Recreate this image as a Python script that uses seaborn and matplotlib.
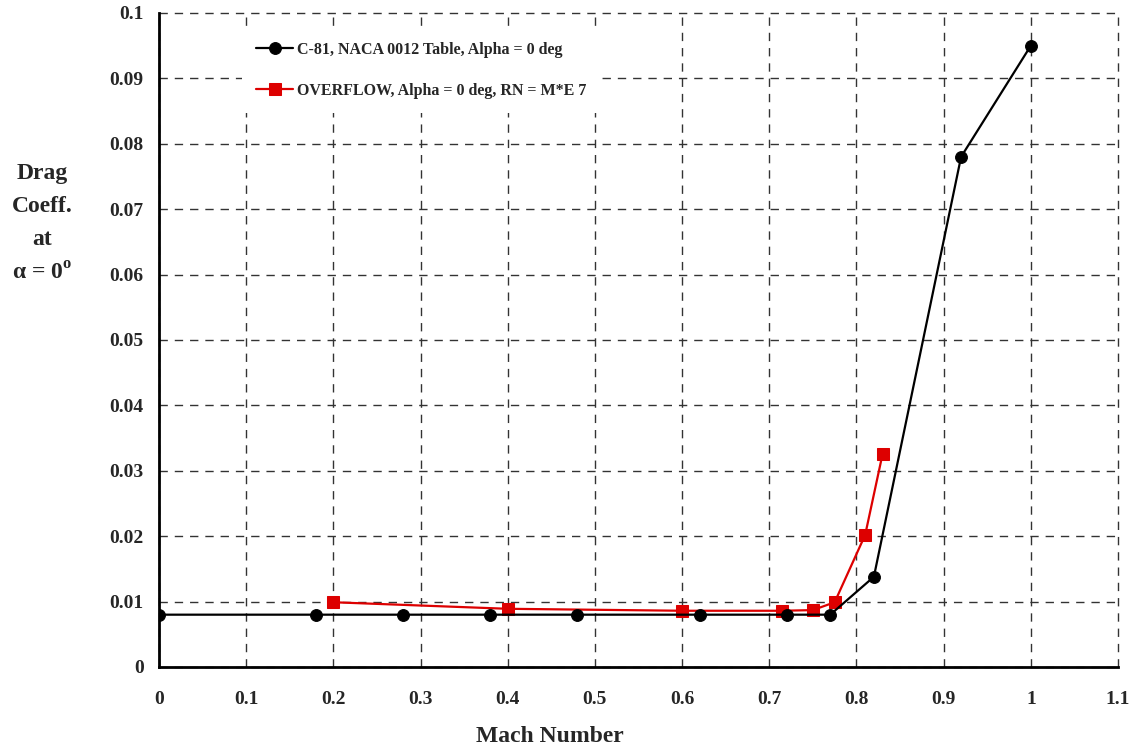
import seaborn as sns
import matplotlib.pyplot as plt

# C-81 table data
c81_mach = [0.0, 0.18, 0.28, 0.38, 0.48, 0.62, 0.72, 0.77, 0.82, 0.92, 1.0]
c81_cd = [0.008, 0.008, 0.008, 0.008, 0.008, 0.008, 0.008, 0.008, 0.0138, 0.078, 0.095]

# OVERFLOW data
ovf_mach = [0.2, 0.4, 0.6, 0.715, 0.75, 0.775, 0.81, 0.83]
ovf_cd = [0.0099, 0.0089, 0.0086, 0.0086, 0.0087, 0.0099, 0.0202, 0.0326]

xticks = [0, 0.1, 0.2, 0.3, 0.4, 0.5, 0.6, 0.7, 0.8, 0.9, 1, 1.1]
yticks = [0, 0.01, 0.02, 0.03, 0.04, 0.05, 0.06, 0.07, 0.08, 0.09, 0.1]

sns.set_style("white")
plt.rcParams['font.family'] = ['Liberation Serif', 'DejaVu Serif']
plt.rcParams['font.weight'] = 'bold'
plt.rcParams['mathtext.fontset'] = 'custom'
plt.rcParams['mathtext.rm'] = 'Liberation Serif:bold'

fig = plt.figure(figsize=(11.34, 7.46), dpi=100)
ax = fig.add_axes([0.1402, 0.1059, 0.8457, 0.8767])

sns.lineplot(x=c81_mach, y=c81_cd, ax=ax, color='black', marker='o', markersize=8.5,
             markeredgecolor='black', linewidth=1.6, sort=False, estimator=None,
             label='C-81, NACA 0012 Table, Alpha = 0 deg', zorder=4)
sns.lineplot(x=ovf_mach, y=ovf_cd, ax=ax, color='#dd0000', marker='s', markersize=8.5,
             markeredgecolor='#dd0000', linewidth=1.6, sort=False, estimator=None,
             label='OVERFLOW, Alpha = 0 deg, RN = M*E 7', zorder=3)

ax.set_xlim(0, 1.1)
ax.set_ylim(0, 0.1)
ax.set_xticks(xticks)
ax.set_xticklabels([f"{t:g}" for t in xticks])
ax.set_yticks(yticks)
ax.set_yticklabels([f"{t:g}" for t in yticks])
ax.tick_params(axis='both', labelsize=14, direction='inout', length=6, width=1.2, color='black')
ax.tick_params(axis='x', pad=14)
ax.tick_params(axis='y', pad=8)
for lab in ax.get_xticklabels() + ax.get_yticklabels():
    lab.set_fontweight('bold')

ax.grid(True, color='#333333', linestyle=(0, (6, 5)), linewidth=1)
for gl in ax.get_xgridlines() + ax.get_ygridlines():
    gl.set_clip_on(False)
for s in ['top', 'right']:
    ax.spines[s].set_visible(False)
for s in ['left', 'bottom']:
    ax.spines[s].set_color('black')
    ax.spines[s].set_linewidth(2)

ax.set_xlabel('')
ax.set_ylabel('')
fig.text(550 / 1134, 1 - 736 / 746, 'Mach Number', ha='center', va='center',
         fontsize=17, fontweight='bold')
fig.text(42 / 1134, 1 - 224 / 746, 'Drag\nCoeff.\nat\nα = 0$^{\\mathrm{o}}$',
         ha='center', va='center', fontsize=17, fontweight='bold', linespacing=1.75)

# legend sits on a white box that hides the grid behind it
leg = ax.legend(loc='upper left', bbox_to_anchor=(0.078, 0.99), frameon=True,
                facecolor='white', edgecolor='none', framealpha=1, fancybox=False,
                prop={'size': 11.5, 'weight': 'bold'}, handlelength=2.3,
                handletextpad=0.25, labelspacing=1.55, borderpad=0.9)

fig.savefig('out.png', dpi=100)
